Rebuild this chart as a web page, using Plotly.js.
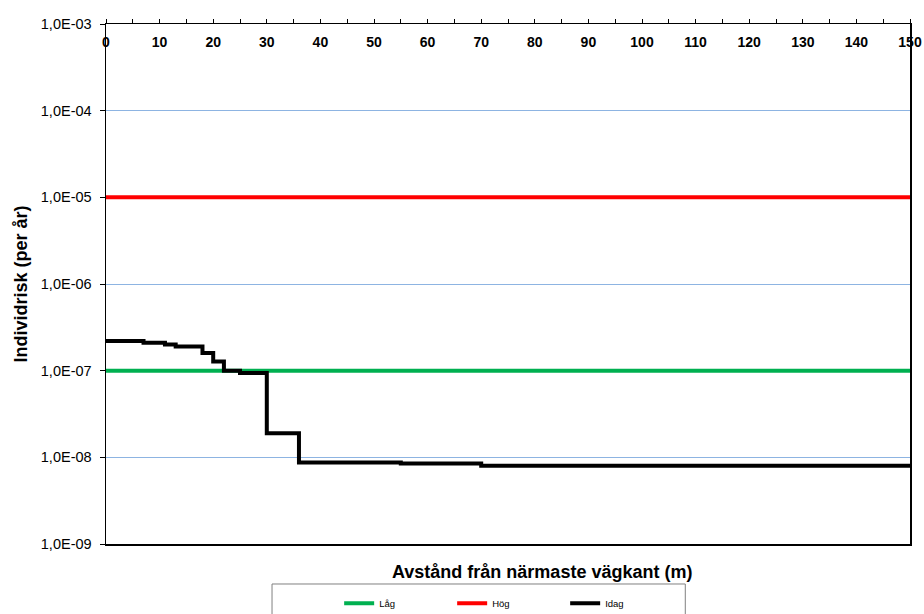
<!DOCTYPE html>
<html>
<head>
<meta charset="utf-8">
<script src="https://cdn.plot.ly/plotly-3.0.1.min.js"></script>
<style>html,body{margin:0;padding:0;background:#fff;}#chart{width:924px;height:614px;}</style>
</head>
<body>
<div id="chart"></div>
<script>
// Data
const distance = [0, 7, 11, 13, 18, 20, 22, 25, 30, 36, 55, 70, 150];
const idagRisk = [2.2e-7, 2.1e-7, 2.0e-7, 1.9e-7, 1.6e-7, 1.28e-7, 1.0e-7, 9.4e-8, 1.9e-8, 8.7e-9, 8.5e-9, 8.0e-9, 8.0e-9];
const limitX = [0, 150];
const lagRisk = [1e-7, 1e-7];
const hogRisk = [1e-5, 1e-5];
const yTickVals = [1e-9, 1e-8, 1e-7, 1e-6, 1e-5, 1e-4, 1e-3];
const yTickText = ["1,0E-09", "1,0E-08", "1,0E-07", "1,0E-06", "1,0E-05", "1,0E-04", "1,0E-03"];
const xTickVals = [0, 10, 20, 30, 40, 50, 60, 70, 80, 90, 100, 110, 120, 130, 140, 150];
const xTickText = ["0", "10", "20", "30", "40", "50", "60", "70", "80", "90", "100", "110", "120", "130", "140", "150"];

const FONT = "Liberation Sans, Arial, sans-serif";

const traces = [
  {x: limitX, y: lagRisk, name: "Låg", mode: "lines", line: {color: "#00B050", width: 4}},
  {x: limitX, y: hogRisk, name: "Hög", mode: "lines", line: {color: "#FF0000", width: 4}},
  {x: distance, y: idagRisk, name: "Idag", mode: "lines", line: {color: "#000000", width: 4, shape: "hv"}}
];

const layout = {
  width: 924, height: 614,
  margin: {l: 106, r: 14, t: 24, b: 70, pad: 0, autoexpand: false},
  paper_bgcolor: "#fff", plot_bgcolor: "#fff",
  font: {family: FONT, color: "#000"},
  showlegend: true,
  legend: {
    orientation: "h", x: 0.29, xanchor: "left", y: -0.086, yanchor: "top",
    font: {size: 9.5, family: FONT}, entrywidth: 68, borderwidth: 0, bgcolor: "rgba(0,0,0,0)"
  },
  xaxis: {
    type: "linear", range: [0, 150], side: "top",
    tickmode: "array", tickvals: xTickVals, ticktext: xTickText,
    ticks: "outside", ticklen: 4, tickwidth: 1, tickcolor: "#000",
    minor: {dtick: 5, ticks: "outside", ticklen: 4, tickcolor: "#000", showgrid: false},
    ticklabelposition: "inside", ticklabeloverflow: "allow", ticklabelstandoff: 13,
    tickfont: {size: 14, family: FONT, weight: "bold", color: "#000"},
    showline: true, linecolor: "#000", linewidth: 1.5, mirror: true,
    showgrid: false, zeroline: false, automargin: false
  },
  yaxis: {
    type: "log", range: [-9, -3],
    tickmode: "array", tickvals: yTickVals, ticktext: yTickText,
    ticks: "outside", ticklen: 5, tickwidth: 1, tickcolor: "#000",
    ticklabelstandoff: 5,
    tickfont: {size: 14.5, family: FONT, color: "#000"},
    showline: true, linecolor: "#000", linewidth: 1.5, mirror: true,
    showgrid: true, gridcolor: "#8DB4E2", gridwidth: 1, zeroline: false,
    automargin: false,
    title: {text: "Individrisk (per år)", font: {size: 18, family: FONT, weight: "bold", color: "#000"}, standoff: 8}
  },
  annotations: [
    {text: "Avstånd från närmaste vägkant (m)", xref: "paper", yref: "paper", x: 0.542, y: -0.054,
     xanchor: "center", yanchor: "middle", showarrow: false,
     font: {size: 18, family: FONT, weight: "bold", color: "#000"}}
  ],
  shapes: [
    {type: "rect", xref: "paper", yref: "paper", x0: 0.2065, x1: 0.7205, y0: -0.0769, y1: -0.3,
     line: {color: "#808080", width: 1}, fillcolor: "rgba(0,0,0,0)", layer: "below"}
  ]
};

Plotly.newPlot("chart", traces, layout, {displayModeBar: false, staticPlot: true});
</script>
</body>
</html>
